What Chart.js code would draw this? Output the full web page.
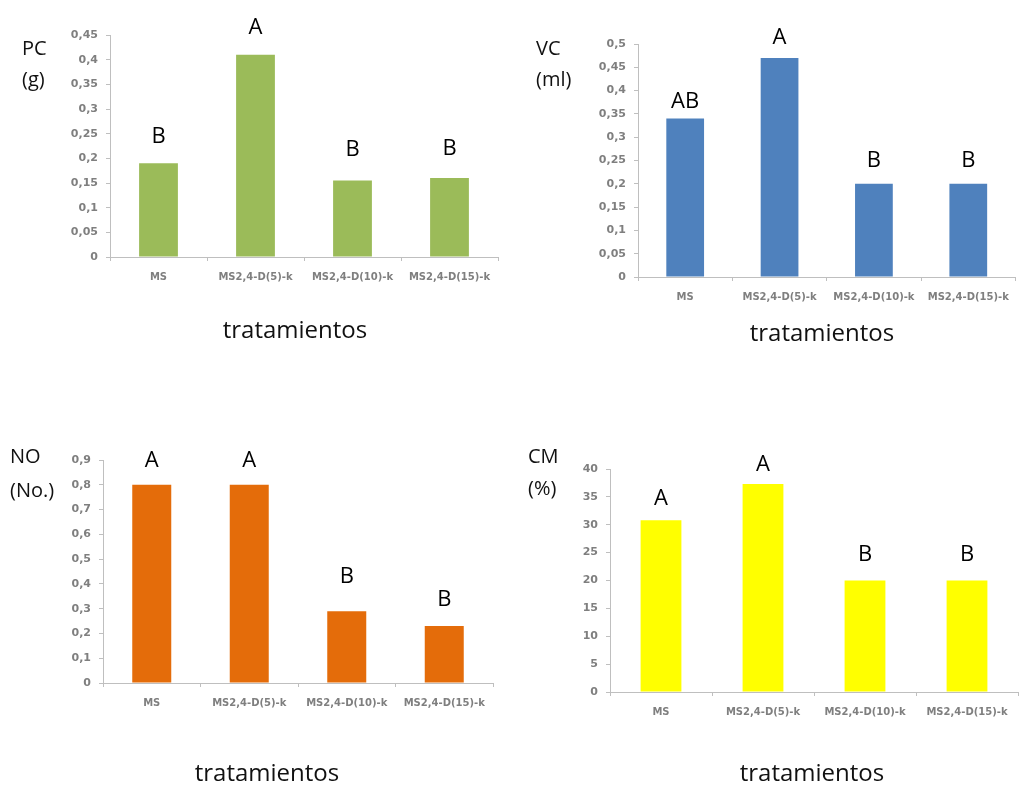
<!DOCTYPE html>
<html>
<head>
<meta charset="utf-8">
<script src="https://cdn.jsdelivr.net/npm/chart.js@4.4.1/dist/chart.umd.min.js"></script>
<style>
body{margin:0;background:#fff;width:1019px;height:785px;position:relative;overflow:hidden}
canvas{position:absolute}
</style>
</head>
<body>
<canvas id="pc" width="509" height="392" style="left:0;top:0"></canvas>
<canvas id="vc" width="509" height="392" style="left:510px;top:0"></canvas>
<canvas id="no" width="509" height="393" style="left:0;top:392px"></canvas>
<canvas id="cm" width="509" height="393" style="left:510px;top:392px"></canvas>
<script>
// data
const categories = ["MS", "MS2,4-D(5)-k", "MS2,4-D(10)-k", "MS2,4-D(15)-k"];

const pcValues = [0.19, 0.41, 0.155, 0.16];
const vcValues = [0.34, 0.47, 0.2, 0.2];
const noValues = [0.8, 0.8, 0.29, 0.23];
const cmValues = [30.8, 37.3, 20, 20];

const pcLetters = ["B", "A", "B", "B"];
const vcLetters = ["AB", "A", "B", "B"];
const noLetters = ["A", "A", "B", "B"];
const cmLetters = ["A", "A", "B", "B"];

const pcTicks = [0, 0.05, 0.1, 0.15, 0.2, 0.25, 0.3, 0.35, 0.4, 0.45];
const vcTicks = [0, 0.05, 0.1, 0.15, 0.2, 0.25, 0.3, 0.35, 0.4, 0.45, 0.5];
const noTicks = [0, 0.1, 0.2, 0.3, 0.4, 0.5, 0.6, 0.7, 0.8, 0.9];
const cmTicks = [0, 5, 10, 15, 20, 25, 30, 35, 40];

const xTitle = "tratamientos";

// layout (page coords): canvas origin, plot area [left, top, right, bottom]
const panels = [
  {id: "pc", ox: 0, oy: 0, area: [110, 35, 498, 257], values: pcValues, letters: pcLetters, ticks: pcTicks,
   lift: [20, 21, 25, 23], color: "#9bbb59", unit: ["PC", "(g)"], unitAt: [22, 55, 86], titleAt: [295, 338]},
  {id: "vc", ox: 510, oy: 0, area: [638, 44, 1018, 277], values: vcValues, letters: vcLetters, ticks: vcTicks,
   lift: [11, 14, 17, 17], color: "#4f81bd", unit: ["VC", "(ml)"], unitAt: [536, 55, 86], titleAt: [822, 341]},
  {id: "no", ox: 0, oy: 392, area: [103, 460, 493, 683], values: noValues, letters: noLetters, ticks: noTicks,
   lift: [18, 18, 28, 20], color: "#e46c0a", unit: ["NO", "(No.)"], unitAt: [10, 463, 497], titleAt: [267, 781]},
  {id: "cm", ox: 510, oy: 392, area: [610, 469, 1018, 692], values: cmValues, letters: cmLetters, ticks: cmTicks,
   lift: [15, 13, 20, 20], color: "#ffff00", unit: ["CM", "(%)"], unitAt: [528, 463, 495], titleAt: [812, 781]}
];

const axisGrey = "#bfbfbf";
const tickFont = {family: "DejaVu Sans", size: 10, weight: "bold"};

const panelText = {
  id: "panelText",
  afterDatasetsDraw(chart, args, opts) {
    const p = opts.panel;
    const ctx = chart.ctx;
    ctx.save();
    ctx.fillStyle = "#000";
    // significance letters over bars
    ctx.font = "22px 'Open Sans'";
    ctx.textAlign = "center";
    ctx.textBaseline = "alphabetic";
    chart.getDatasetMeta(0).data.forEach((bar, i) => {
      ctx.fillText(p.letters[i], bar.x, bar.y - p.lift[i]);
    });
    // unit label, top left
    ctx.font = "20px 'Open Sans'";
    ctx.textAlign = "left";
    ctx.fillStyle = "#111";
    ctx.fillText(p.unit[0], p.unitAt[0] - p.ox, p.unitAt[1] - p.oy);
    ctx.fillText(p.unit[1], p.unitAt[0] - p.ox, p.unitAt[2] - p.oy);
    // x title
    ctx.font = "24px 'Open Sans'";
    ctx.textAlign = "center";
    ctx.fillText(xTitle, p.titleAt[0] - p.ox, p.titleAt[1] - p.oy);
    ctx.restore();
  }
};

panels.forEach(p => {
  const cv = document.getElementById(p.id);
  const [L, T, R, B] = p.area;
  const step = p.ticks[1] - p.ticks[0];
  new Chart(cv, {
    type: "bar",
    data: {
      labels: categories,
      datasets: [{
        data: p.values,
        backgroundColor: p.color,
        borderWidth: 0,
        barPercentage: 0.4,
        categoryPercentage: 1
      }]
    },
    options: {
      responsive: false,
      animation: false,
      layout: {padding: {left: 0, top: T - p.oy, right: p.ox + cv.width - R, bottom: 0}},
      plugins: {
        legend: {display: false},
        tooltip: {enabled: false},
        panelText: {panel: p}
      },
      scales: {
        x: {
          grid: {display: true, drawOnChartArea: false, drawTicks: true, tickLength: 4, color: axisGrey},
          border: {color: axisGrey},
          ticks: {font: tickFont, color: "#7f7f7f", padding: 10, maxRotation: 0, autoSkip: false},
          afterFit: s => { s.height = p.oy + cv.height - B; }
        },
        y: {
          min: p.ticks[0],
          max: p.ticks[p.ticks.length - 1],
          afterBuildTicks: s => { s.ticks = p.ticks.map(v => ({value: v})); },
          grid: {display: true, drawOnChartArea: false, drawTicks: true, tickLength: 4, color: axisGrey},
          border: {color: axisGrey},
          ticks: {
            stepSize: step,
            font: {family: "DejaVu Sans", size: 11, weight: "bold"},
            color: "#7f7f7f",
            padding: 8,
            callback: v => String(Number(v.toFixed(2))).replace(".", ",")
          },
          afterFit: s => { s.width = L - p.ox; }
        }
      }
    },
    plugins: [panelText]
  });
});
</script>
</body>
</html>
